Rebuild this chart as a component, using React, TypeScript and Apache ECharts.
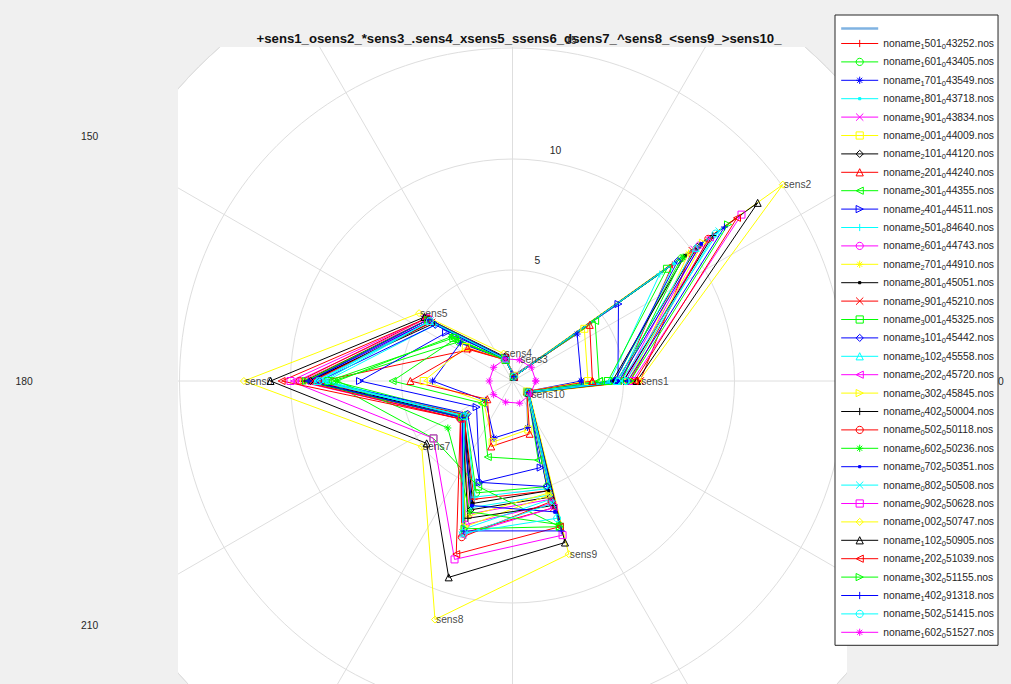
import React, { useEffect, useRef } from 'react';
import * as echarts from 'echarts';

// ---------------- data ----------------
const SENSORS = ['sens1', 'sens2', 'sens3', 'sens4', 'sens5', 'sens6', 'sens7', 'sens8', 'sens9', 'sens10'];
const SENSOR_ANGLES = [0, 36, 72, 108, 144, 180, 216, 252, 288, 324];
const RADIUS_TICKS = [5, 10, 15];
const ANGLE_TICKS = [0, 30, 60, 90, 120, 150, 180, 210, 240, 270, 300, 330];

const SERIES_NAMES = [
  'noname_1501_043252.nos', 'noname_1601_043405.nos', 'noname_1701_043549.nos', 'noname_1801_043718.nos',
  'noname_1901_043834.nos', 'noname_2001_044009.nos', 'noname_2101_044120.nos', 'noname_2201_044240.nos',
  'noname_2301_044355.nos', 'noname_2401_044511.nos', 'noname_2501_084640.nos', 'noname_2601_044743.nos',
  'noname_2701_044910.nos', 'noname_2801_045051.nos', 'noname_2901_045210.nos', 'noname_3001_045325.nos',
  'noname_3101_045442.nos', 'noname_0102_045558.nos', 'noname_0202_045720.nos', 'noname_0302_045845.nos',
  'noname_0402_050004.nos', 'noname_0502_050118.nos', 'noname_0602_050236.nos', 'noname_0702_050351.nos',
  'noname_0802_050508.nos', 'noname_0902_050628.nos', 'noname_1002_050747.nos', 'noname_1102_050905.nos',
  'noname_1202_051039.nos', 'noname_1302_051155.nos', 'noname_1402_091318.nos', 'noname_1502_051415.nos',
  'noname_1602_051527.nos',
];

const v1501 = [4.9, 8.9, 0.2, 1.0, 2.4, 8.6, 2.7, 5.6, 5.2, 0.85];
const v1601 = [4.6, 9.4, 0.2, 1.05, 3.0, 8.1, 2.6, 5.3, 5.0, 0.85];
const v1701 = [3.1, 3.6, 0.25, 1.0, 2.9, 3.6, 1.5, 2.7, 2.2, 0.8];
const v1801 = [4.8, 9.0, 0.2, 1.0, 4.5, 8.9, 2.8, 6.0, 5.4, 0.85];
const v1901 = [5.0, 10.1, 0.2, 1.05, 4.6, 9.0, 2.8, 6.3, 5.6, 0.9];
const v2001 = [3.4, 4.0, 0.25, 1.0, 2.6, 4.0, 1.6, 2.9, 2.3, 0.8];
const v2101 = [4.7, 10.3, 0.2, 1.05, 4.5, 9.1, 2.7, 6.1, 5.5, 0.85];
const v2201 = [3.6, 4.3, 0.2, 1.0, 2.5, 4.6, 1.4, 3.1, 2.5, 0.8];
const v2301 = [3.9, 4.6, 0.2, 1.0, 3.2, 5.4, 1.7, 3.6, 3.75, 0.85];
const v2401 = [4.75, 5.9, 0.3, 1.1, 3.7, 6.87, 2.0, 4.8, 4.1, 0.85];
const v2501 = [4.4, 8.2, 0.2, 1.0, 4.3, 8.4, 2.6, 5.5, 5.1, 0.85];
const v2601 = [5.1, 10.4, 0.2, 1.05, 4.6, 9.5, 2.9, 6.8, 5.8, 0.9];
const v2701 = [5.3, 9.8, 0.2, 1.0, 4.7, 9.3, 2.8, 6.4, 5.3, 0.85];
const v2801 = [4.5, 9.6, 0.2, 1.0, 4.4, 9.2, 2.7, 5.8, 5.2, 0.85];
const v2901 = [5.75, 10.0, 0.2, 1.05, 4.5, 9.0, 2.6, 7.2, 6.0, 0.9];
const v3001 = [4.3, 8.6, 0.2, 1.0, 3.3, 8.3, 4.4, 5.0, 6.9, 0.85];
const v3101 = [4.6, 9.2, 0.2, 1.0, 4.3, 8.7, 2.5, 4.8, 5.0, 0.85];
const v0102 = [4.7, 10.2, 0.2, 1.05, 4.6, 8.8, 2.7, 7.0, 5.6, 0.85];
const v0202 = [5.0, 11.0, 0.2, 1.05, 4.7, 9.7, 2.9, 7.3, 6.0, 0.9];
const v0302 = [5.2, 10.6, 0.2, 1.05, 4.7, 9.4, 2.8, 6.9, 5.4, 0.85];
const v0402 = [5.0, 11.15, 0.2, 1.05, 4.7, 9.35, 2.8, 6.5, 5.9, 0.9];
const v0502 = [5.3, 10.9, 0.2, 1.05, 4.8, 9.6, 2.9, 7.4, 5.7, 0.9];
const v0602 = [4.9, 9.5, 0.2, 1.0, 3.4, 7.9, 3.6, 6.2, 6.8, 0.85];
const v0702 = [4.8, 10.5, 0.2, 1.05, 4.6, 9.2, 2.8, 5.9, 6.2, 0.9];
const v0802 = [4.9, 11.5, 0.2, 1.05, 4.6, 8.5, 2.7, 7.3, 5.8, 0.85];
const v0902 = [5.4, 12.75, 0.2, 1.1, 4.8, 10.0, 4.4, 8.45, 7.3, 0.9];
const v1002 = [5.7, 15.05, 0.25, 1.3, 5.2, 12.1, 5.05, 11.3, 8.2, 0.95];
const v1102 = [5.6, 13.65, 0.2, 1.15, 4.9, 10.9, 4.78, 9.3, 7.65, 0.9];
const v1202 = [5.5, 12.5, 0.2, 1.1, 4.8, 10.4, 2.9, 8.2, 6.9, 0.9];
const v1302 = [5.3, 12.0, 0.2, 1.1, 4.7, 9.3, 2.8, 7.0, 6.9, 0.9];
const v1402 = [5.2, 11.8, 0.2, 1.1, 4.7, 9.2, 2.8, 7.1, 7.1, 0.9];
const v1502 = [5.1, 11.3, 0.2, 1.05, 4.6, 8.7, 2.7, 7.2, 6.5, 0.9];
const v1602 = [1.05, 1.05, 1.0, 1.05, 1.05, 1.05, 1.05, 1.0, 1.05, 1.0];

const SERIES_VALUES = [
  v1501, v1601, v1701, v1801, v1901, v2001, v2101, v2201, v2301, v2401, v2501,
  v2601, v2701, v2801, v2901, v3001, v3101, v0102, v0202, v0302, v0402, v0502,
  v0602, v0702, v0802, v0902, v1002, v1102, v1202, v1302, v1402, v1502, v1602,
];

const TITLE = '+sens1_osens2_*sens3_.sens4_xsens5_ssens6_dsens7_^sens8_<sens9_>sens10_';

// ---------------- styling ----------------
const COLORS = ['#ff0000', '#00ff00', '#0000ff', '#00ffff', '#ff00ff', '#ffff00', '#000000'];
const MARKERS = ['+', 'o', '*', '.', 'x', 's', 'd', '^', '<', '>'];
const SYMBOLS: Record<string, string> = {
  '+': 'path://M5,0L5,10M0,5L10,5',
  'o': 'circle',
  '*': 'path://M5,0L5,10M0,5L10,5M1.5,1.5L8.5,8.5M1.5,8.5L8.5,1.5',
  '.': 'path://M0,0M10,10M3.5,3.5L6.5,3.5L6.5,6.5L3.5,6.5Z',
  'x': 'path://M0,0L10,10M0,10L10,0',
  's': 'rect',
  'd': 'diamond',
  '^': 'triangle',
  '<': 'path://M0,5L10,0L10,10Z',
  '>': 'path://M10,5L0,0L0,10Z',
};

const FONT = '"Liberation Sans", Arial, Helvetica, sans-serif';
const TEXT_COLOR = '#262626';
const GRID_COLOR = '#dedede';
const FIG_BG = '#f0f0f0';
const W = 1011;
const H = 684;
const CX = 512.5;
const CY = 381;
const RPX = 444;
const RMAX = 20;
const CLIP = { left: 178, top: 47, right: 847 };
const LEGEND_BOX = { left: 835, top: 15, right: 997, bottom: 645 };

function richName(name: string): string {
  return name
    .split(/(_.)/)
    .filter((p) => p.length > 0)
    .map((p) => (p[0] === '_' ? `{s|${p.slice(1)}}` : `{n|${p}}`))
    .join('');
}

function polarPx(r: number, deg: number): [number, number] {
  const a = (deg * Math.PI) / 180;
  const rr = (r / RMAX) * RPX;
  return [CX + rr * Math.cos(a), CY - rr * Math.sin(a)];
}

export default function App() {
  const ref = useRef<HTMLDivElement>(null);

  useEffect(() => {
    if (!ref.current) return;
    document.body.style.margin = '0';
    const chart = echarts.init(ref.current, undefined, { renderer: 'svg' });

    const maxR = SENSORS.map((_, k) => Math.max(...SERIES_VALUES.map((v) => v[k])));

    const dataSeries = SERIES_NAMES.map((name, i) => {
      const c = COLORS[i % 7];
      const m = MARKERS[i % 10];
      const vals = SERIES_VALUES[i];
      const data = [...vals, vals[0]].map((v, k) => [v, SENSOR_ANGLES[k % 10]]);
      return {
        name,
        type: 'line',
        coordinateSystem: 'polar',
        data,
        symbol: SYMBOLS[m],
        symbolSize: m === '.' ? 9 : 7,
        showSymbol: true,
        showAllSymbol: true,
        lineStyle: { color: c, width: 1 },
        itemStyle: { color: m === '.' ? c : 'transparent', borderColor: c, borderWidth: 1 },
        emphasis: { disabled: true },
        silent: true,
        z: 2,
      };
    });

    const legendData: any[] = [
      { name: 'ref', itemStyle: { opacity: 0 }, lineStyle: { width: 2.4, color: '#80b3e2' } },
      ...SERIES_NAMES.map((n, i) => {
        const c = COLORS[i % 7];
        const m = MARKERS[i % 10];
        return {
          name: n,
          itemStyle: { color: m === '.' ? c : 'transparent', borderColor: c, borderWidth: 1 },
          lineStyle: { width: 1, color: c },
        };
      }),
    ];

    const graphics: any[] = [
      { type: 'circle', shape: { cx: CX, cy: CY, r: RPX }, style: { fill: '#ffffff' }, z: -10, silent: true },
      { type: 'rect', shape: { x: 0, y: 0, width: CLIP.left, height: H }, style: { fill: FIG_BG }, z: 1, silent: true },
      { type: 'rect', shape: { x: 0, y: 0, width: W, height: CLIP.top }, style: { fill: FIG_BG }, z: 1, silent: true },
      { type: 'rect', shape: { x: CLIP.right, y: 0, width: W - CLIP.right, height: H }, style: { fill: FIG_BG }, z: 1, silent: true },
    ];
    ANGLE_TICKS.forEach((a) => {
      const [x, y] = polarPx(RMAX * 1.1, a);
      if (y < 8 || y > H - 8 || x < 0 || x > W + 6) return; // outside the figure
      const underLegend = x > LEGEND_BOX.left && x < LEGEND_BOX.right && y > LEGEND_BOX.top && y < LEGEND_BOX.bottom;
      if (underLegend) return; // hidden behind the legend box
      graphics.push({
        type: 'text', x, y, z: 5, silent: true,
        style: { text: String(a), fill: TEXT_COLOR, fontSize: 10.3, fontFamily: FONT, align: 'center', verticalAlign: 'middle' },
      });
    });
    RADIUS_TICKS.forEach((r) => {
      const [x, y] = polarPx(r + 5 / 20, 82);
      graphics.push({
        type: 'text', x: x + 5.7, y, z: 6, silent: true,
        style: { text: String(r), fill: TEXT_COLOR, fontSize: 10.3, fontFamily: FONT, align: 'left', verticalAlign: 'bottom' },
      });
    });
    graphics.push({
      type: 'text', x: 519, y: 38, z: 5, silent: true,
      style: { text: TITLE, fill: '#111111', fontSize: 13.2, fontWeight: 'bold', fontFamily: FONT, align: 'center', verticalAlign: 'middle' },
    });

    chart.setOption({
      animation: false,
      backgroundColor: FIG_BG,
      polar: { center: [CX, CY], radius: RPX },
      radiusAxis: {
        type: 'value', min: 0, max: RMAX, interval: 5,
        axisLine: { show: false }, axisTick: { show: false }, axisLabel: { show: false },
        splitLine: { show: true, lineStyle: { color: GRID_COLOR, width: 1 } },
        z: 0,
      },
      angleAxis: {
        type: 'value', min: 0, max: 360, interval: 30, startAngle: 0, clockwise: false,
        axisLine: { show: true, lineStyle: { color: GRID_COLOR, width: 1 } },
        axisTick: { show: false }, axisLabel: { show: false },
        splitLine: { show: true, lineStyle: { color: GRID_COLOR, width: 1 } },
        z: 0,
      },
      legend: {
        orient: 'vertical', left: LEGEND_BOX.left, top: LEGEND_BOX.top, z: 10,
        backgroundColor: '#ffffff', borderColor: TEXT_COLOR, borderWidth: 1, borderRadius: 0,
        padding: [9, 4, 6, 5], itemWidth: 37, itemHeight: 9, itemGap: 6.4,
        selectedMode: false,
        lineStyle: { width: 1 },
        data: legendData,
        formatter: (name: string) => (name === 'ref' ? '' : richName(name)),
        textStyle: {
          color: TEXT_COLOR, fontFamily: FONT, fontSize: 10.3,
          rich: {
            n: { fontSize: 10.3, lineHeight: 14, fontFamily: FONT, color: TEXT_COLOR },
            s: { fontSize: 7.5, lineHeight: 7, verticalAlign: 'bottom', fontFamily: FONT, color: TEXT_COLOR },
          },
        },
      },
      graphic: { elements: graphics },
      series: [
        {
          name: 'ref', type: 'line', coordinateSystem: 'polar', data: [], symbol: 'none',
          lineStyle: { color: '#80b3e2', width: 2.4 }, silent: true,
        },
        ...dataSeries,
        {
          name: 'sensorLabels', type: 'scatter', coordinateSystem: 'polar',
          data: SENSORS.map((s, k) => ({ value: [maxR[k], SENSOR_ANGLES[k]], name: s })),
          symbolSize: 0, silent: true, z: 3,
          label: { show: true, position: 'right', distance: 1, formatter: '{b}', color: '#111111', fontSize: 10.3, fontFamily: FONT },
        },
      ],
    });

    return () => chart.dispose();
  }, []);

  return <div ref={ref} style={{ position: 'absolute', left: 0, top: 0, width: W, height: H }} />;
}
